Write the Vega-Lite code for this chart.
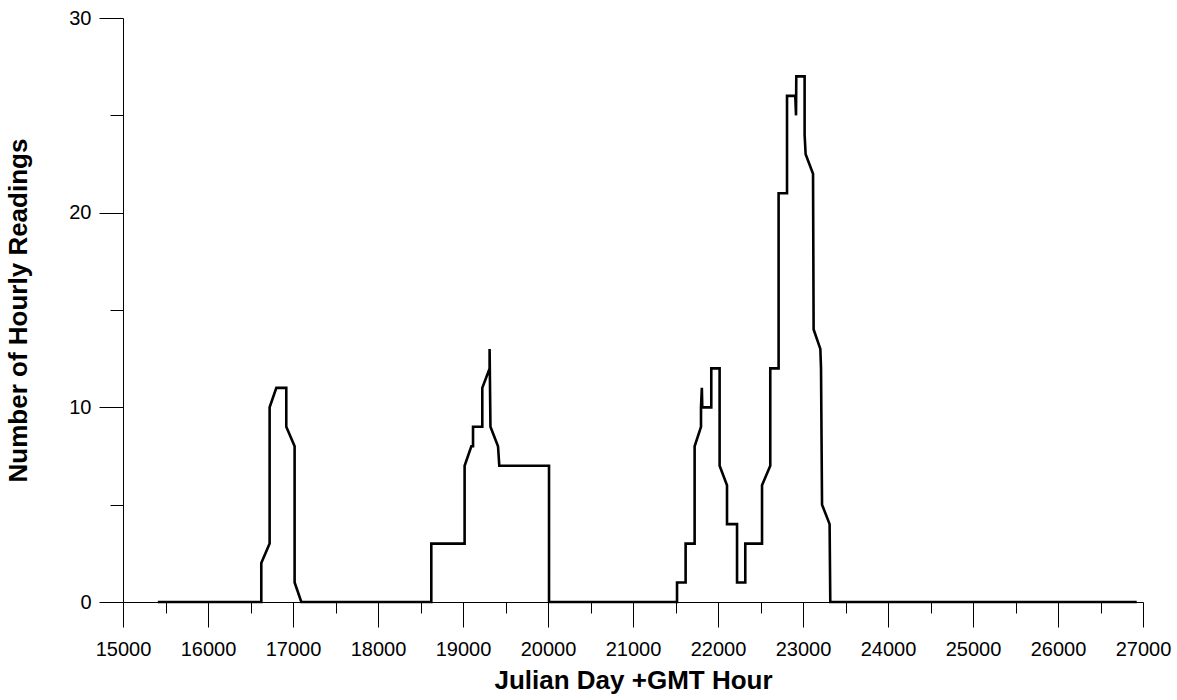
{
  "$schema": "https://vega.github.io/schema/vega-lite/v6.json",
  "autosize": {"type": "none"},
  "padding": {"left": 123, "top": 18, "right": 34, "bottom": 98},
  "width": 1020,
  "height": 584,
  "background": "white",
  "config": {
    "view": {"stroke": null},
    "font": "Liberation Sans",
    "axis": {
      "domainColor": "black",
      "domainWidth": 1,
      "tickColor": "black",
      "tickWidth": 1,
      "grid": false,
      "labelColor": "black",
      "titleColor": "black",
      "labelFont": "Liberation Sans",
      "titleFont": "Liberation Sans",
      "labelFontSize": 20,
      "titleFontSize": 26,
      "titleFontWeight": "bold"
    }
  },
  "data": {
    "values": [
      {"i": 0, "x": 15410, "y": 0},
      {"i": 1, "x": 16627, "y": 0},
      {"i": 2, "x": 16627, "y": 2},
      {"i": 3, "x": 16725, "y": 3},
      {"i": 4, "x": 16725, "y": 10},
      {"i": 5, "x": 16804, "y": 11},
      {"i": 6, "x": 16921, "y": 11},
      {"i": 7, "x": 16921, "y": 9},
      {"i": 8, "x": 17019, "y": 8},
      {"i": 9, "x": 17019, "y": 1},
      {"i": 10, "x": 17098, "y": 0},
      {"i": 11, "x": 18627, "y": 0},
      {"i": 12, "x": 18627, "y": 3},
      {"i": 13, "x": 19019, "y": 3},
      {"i": 14, "x": 19019, "y": 7},
      {"i": 15, "x": 19098, "y": 8},
      {"i": 16, "x": 19118, "y": 8},
      {"i": 17, "x": 19118, "y": 9},
      {"i": 18, "x": 19227, "y": 9},
      {"i": 19, "x": 19227, "y": 11},
      {"i": 20, "x": 19313, "y": 12},
      {"i": 21, "x": 19313, "y": 13},
      {"i": 22, "x": 19323, "y": 9},
      {"i": 23, "x": 19412, "y": 8},
      {"i": 24, "x": 19427, "y": 7},
      {"i": 25, "x": 20012, "y": 7},
      {"i": 26, "x": 20012, "y": 0},
      {"i": 27, "x": 21518, "y": 0},
      {"i": 28, "x": 21518, "y": 1},
      {"i": 29, "x": 21619, "y": 1},
      {"i": 30, "x": 21619, "y": 3},
      {"i": 31, "x": 21725, "y": 3},
      {"i": 32, "x": 21725, "y": 8},
      {"i": 33, "x": 21800, "y": 9},
      {"i": 34, "x": 21800, "y": 10},
      {"i": 35, "x": 21810, "y": 11},
      {"i": 36, "x": 21815, "y": 10},
      {"i": 37, "x": 21921, "y": 10},
      {"i": 38, "x": 21921, "y": 12},
      {"i": 39, "x": 22019, "y": 12},
      {"i": 40, "x": 22019, "y": 7},
      {"i": 41, "x": 22106, "y": 6},
      {"i": 42, "x": 22106, "y": 4},
      {"i": 43, "x": 22224, "y": 4},
      {"i": 44, "x": 22224, "y": 1},
      {"i": 45, "x": 22321, "y": 1},
      {"i": 46, "x": 22321, "y": 3},
      {"i": 47, "x": 22518, "y": 3},
      {"i": 48, "x": 22518, "y": 6},
      {"i": 49, "x": 22615, "y": 7},
      {"i": 50, "x": 22615, "y": 12},
      {"i": 51, "x": 22713, "y": 12},
      {"i": 52, "x": 22713, "y": 21},
      {"i": 53, "x": 22812, "y": 21},
      {"i": 54, "x": 22812, "y": 26},
      {"i": 55, "x": 22909, "y": 26},
      {"i": 56, "x": 22918, "y": 25},
      {"i": 57, "x": 22921, "y": 27},
      {"i": 58, "x": 23019, "y": 27},
      {"i": 59, "x": 23019, "y": 24},
      {"i": 60, "x": 23031, "y": 23},
      {"i": 61, "x": 23118, "y": 22},
      {"i": 62, "x": 23125, "y": 14},
      {"i": 63, "x": 23204, "y": 13},
      {"i": 64, "x": 23212, "y": 12},
      {"i": 65, "x": 23224, "y": 5},
      {"i": 66, "x": 23313, "y": 4},
      {"i": 67, "x": 23321, "y": 0},
      {"i": 68, "x": 26926, "y": 0}
    ]
  },
  "resolve": {"axis": {"x": "independent", "y": "independent"}},
  "layer": [
    {
      "mark": {"type": "line", "strokeOpacity": 0},
      "encoding": {
        "x": {
          "field": "x", "type": "quantitative",
          "scale": {"domain": [15000, 27000], "nice": false, "zero": false},
          "axis": {
            "orient": "bottom", "title": null, "labels": false, "domain": false,
            "values": [15500, 16500, 17500, 18500, 19500, 20500, 21500, 22500, 23500, 24500, 25500, 26500],
            "tickSize": 11
          }
        },
        "y": {
          "field": "y", "type": "quantitative",
          "scale": {"domain": [0, 30], "nice": false},
          "axis": {
            "orient": "left", "title": null, "labels": false, "domain": false,
            "values": [5, 15, 25],
            "tickSize": 13
          }
        },
        "order": {"field": "i", "type": "quantitative"}
      }
    },
    {
      "mark": {"type": "line", "color": "black", "strokeWidth": 2.6, "strokeJoin": "miter", "strokeCap": "butt"},
      "encoding": {
        "x": {
          "field": "x", "type": "quantitative",
          "scale": {"domain": [15000, 27000], "nice": false, "zero": false},
          "axis": {
            "orient": "bottom",
            "title": "Julian Day +GMT Hour",
            "values": [15000, 16000, 17000, 18000, 19000, 20000, 21000, 22000, 23000, 24000, 25000, 26000, 27000],
            "format": "d",
            "tickSize": 25,
            "labelPadding": 12,
            "labelFlush": false,
            "labelOverlap": false,
            "titleBaseline": "middle",
            "titleY": 78
          }
        },
        "y": {
          "field": "y", "type": "quantitative",
          "scale": {"domain": [0, 30], "nice": false},
          "axis": {
            "orient": "left",
            "title": "Number of Hourly Readings",
            "values": [0, 10, 20, 30],
            "tickSize": 24,
            "labelPadding": 8,
            "labelFlush": false,
            "titleBaseline": "middle",
            "titleX": -105
          }
        },
        "order": {"field": "i", "type": "quantitative"}
      }
    }
  ]
}
